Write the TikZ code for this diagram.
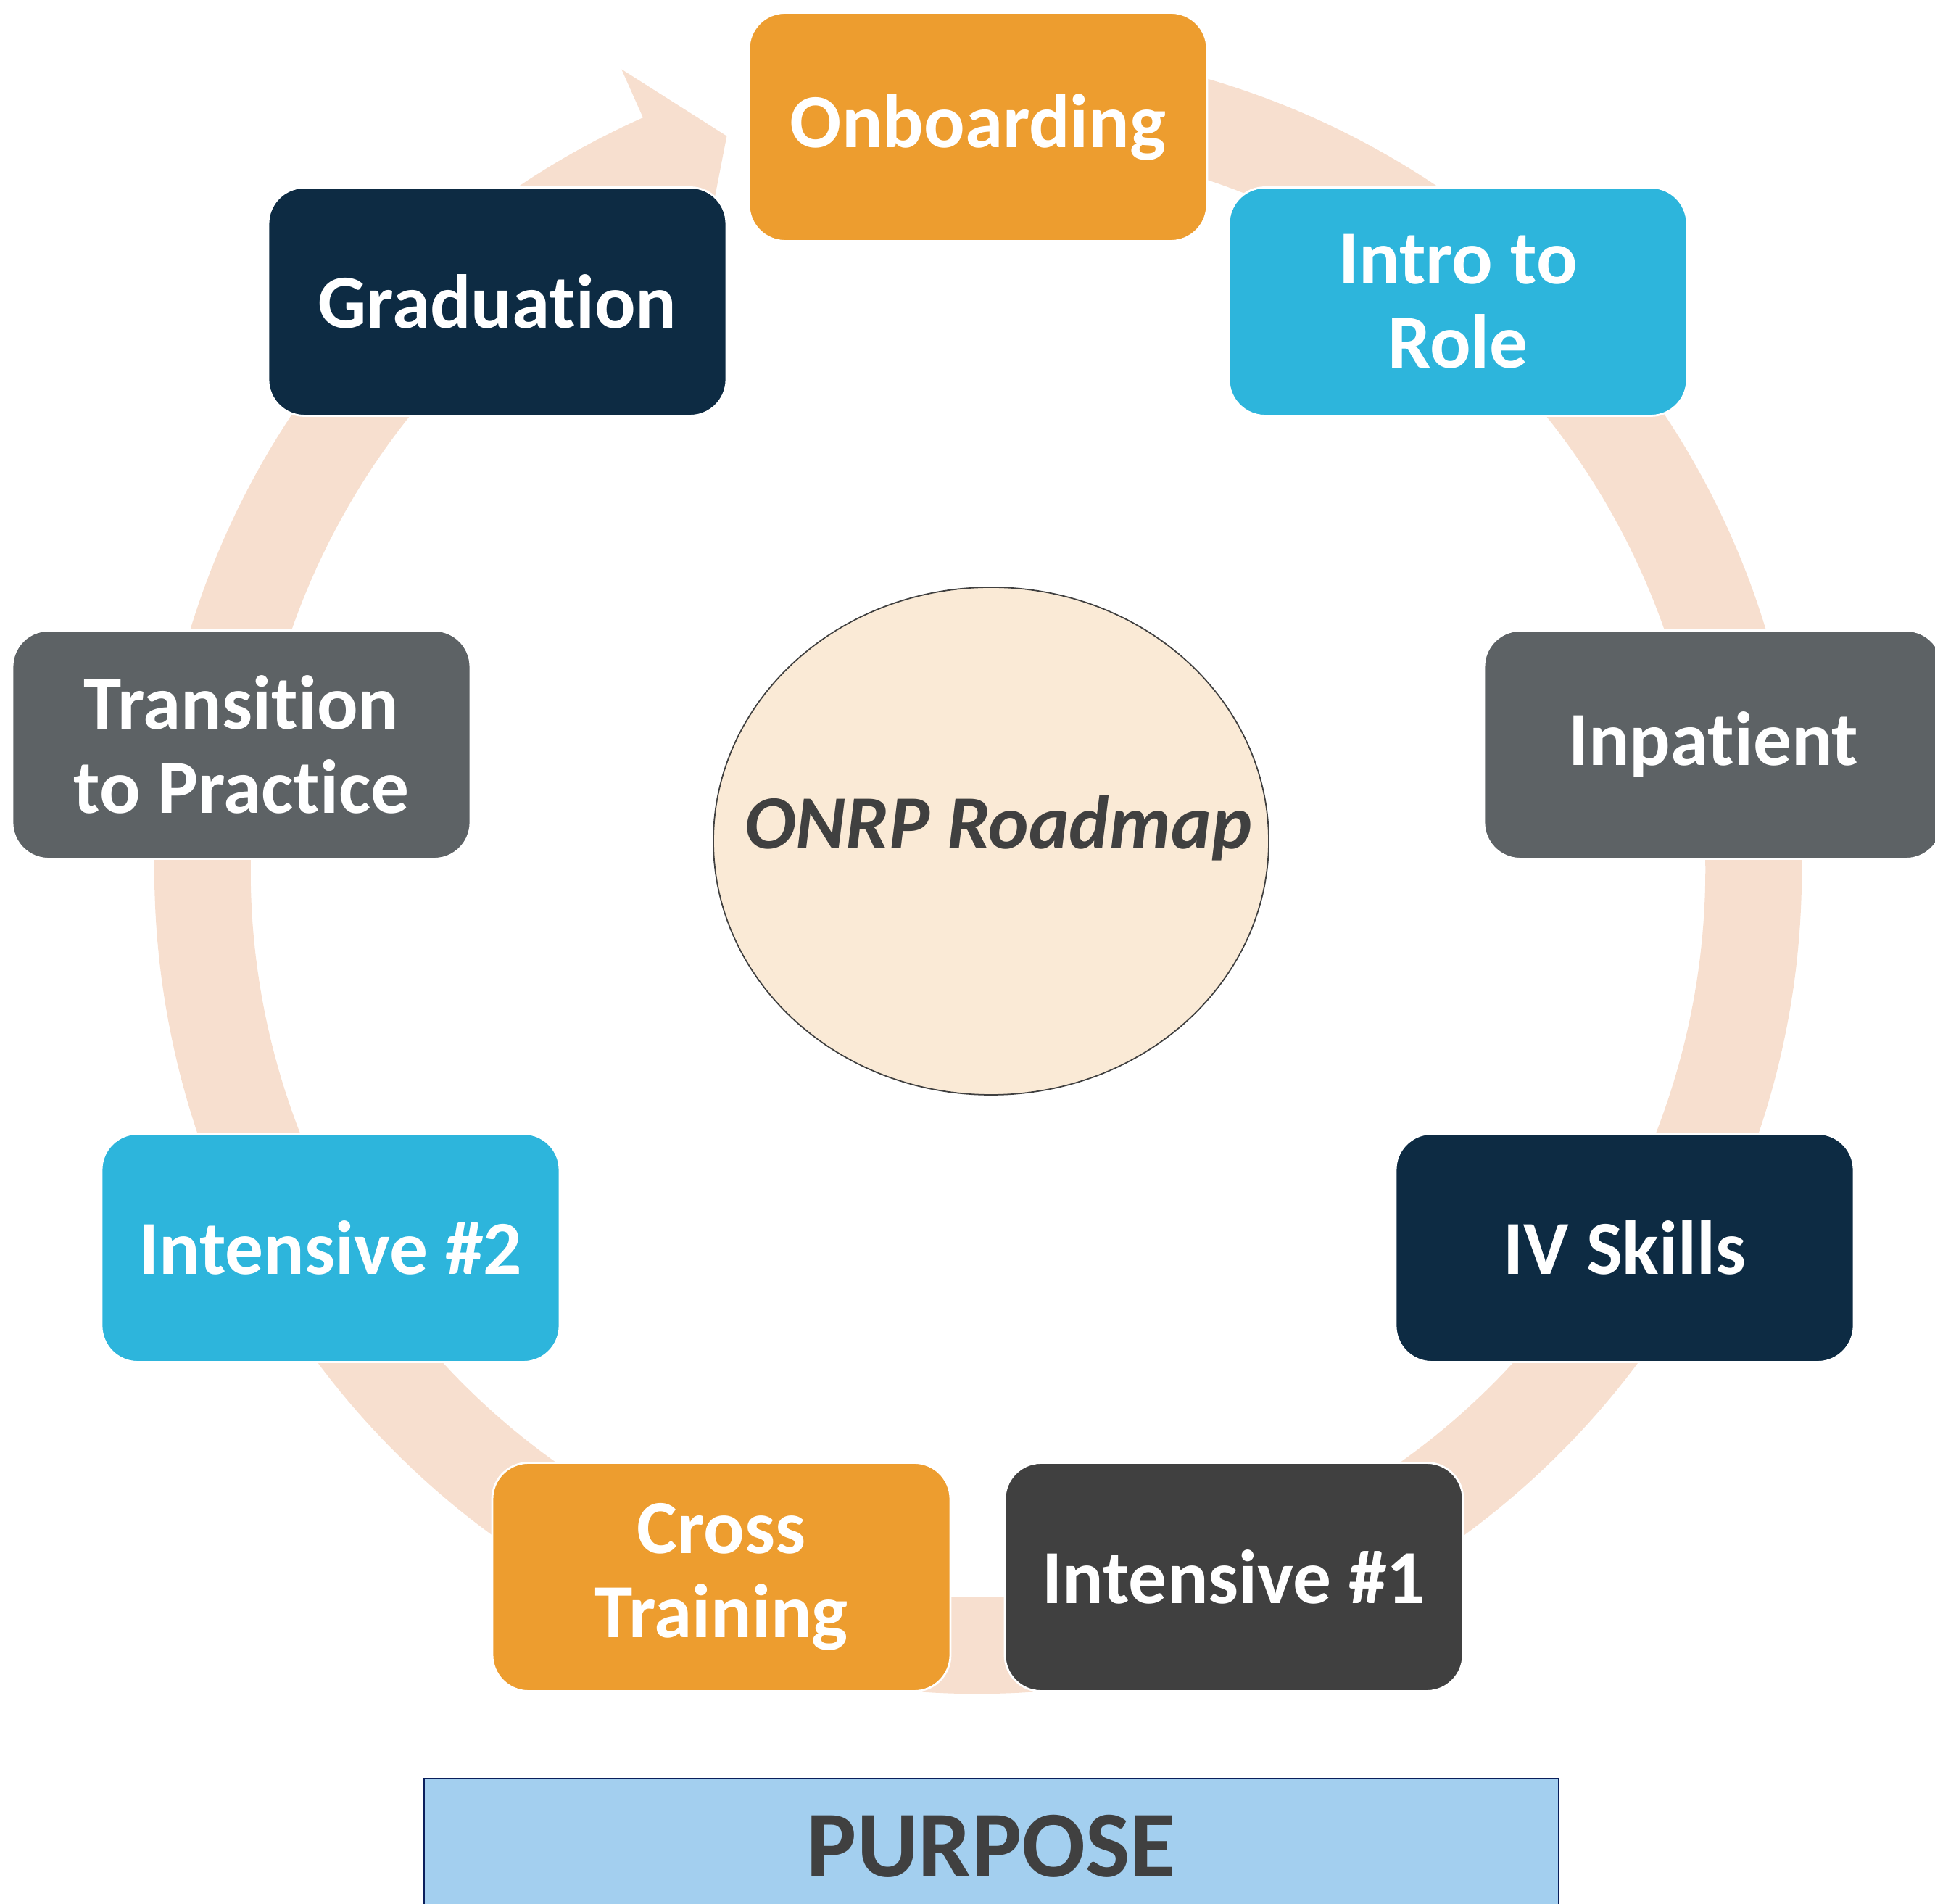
\documentclass[tikz,border=0pt]{standalone}
\usepackage{fontspec}
\setmainfont{Carlito}[Ligatures={NoCommon}]
\usetikzlibrary{shapes.geometric}
\definecolor{stageorange}{HTML}{ED9D2F}
\definecolor{stagecyan}{HTML}{2DB5DC}
\definecolor{stagenavy}{HTML}{0D2B43}
\definecolor{stagegrey}{HTML}{5D6265}
\definecolor{stagedark}{HTML}{404040}
\definecolor{ringpeach}{HTML}{F7DFCF}
\definecolor{hubfill}{HTML}{FAEAD6}
\definecolor{bannerfill}{HTML}{A3CFEF}
\definecolor{bannerline}{HTML}{0A1F5C}
\tikzset{
  stage/.style={rectangle, rounded corners=0.5cm,
    draw=white, line width=0.8pt,
    minimum width=6.32cm, minimum height=3.15cm, inner sep=0pt,
    text=white, align=center, font=\fontsize{30}{33}\selectfont\bfseries},
  hub/.style={ellipse, draw=stagedark, fill=hubfill, line width=0.5pt,
    minimum width=7.66cm, minimum height=7.0cm, inner sep=0pt},
  hubtitle/.style={text=stagedark, anchor=base,
    font=\fontsize{30}{33}\selectfont\bfseries\itshape},
  banner/.style={rectangle, draw=bannerline, fill=bannerfill, line width=0.6pt,
    minimum width=15.65cm, minimum height=1.86cm, text=stagedark,
    font=\fontsize{37}{40}\selectfont\bfseries},
}

\begin{document}
\begin{tikzpicture}
  \useasboundingbox (0,0) rectangle (26.69,26.26);
  \clip (0,0) rectangle (26.69,26.26);

  % circular arrow running clockwise behind the stages
  \begin{scope}[shift={(13.49,14.26)}]
    \fill[ringpeach] (100:11.36) arc[start angle=100, end angle=-246, radius=11.36]
      -- (-246:12.09) -- (-251.1:10.70) -- (-246:9.30) -- (-246:10.03)
      arc[start angle=-246, end angle=100, radius=10.03] -- cycle;
  \end{scope}

  \node[hub] (hub) at (13.67,14.66) {};
  \node[hubtitle] (title) at (13.77,14.55) {ONRP Roadmap};

  \node[stage, fill=stageorange] (onboard) at (13.49,24.51) {Onboarding};
  \node[stage, fill=stagecyan]   (intro)   at (20.11,22.10) {Intro to\\Role};
  \node[stage, fill=stagegrey]   (inpat)   at (23.63,15.99) {Inpatient};
  \node[stage, fill=stagenavy]   (iv)      at (22.41,9.05)  {IV Skills};
  \node[stage, fill=stagedark]   (intone)  at (17.02,4.51)  {Intensive \#1};
  \node[stage, fill=stageorange] (cross)   at (9.95,4.51)   {Cross\\Training};
  \node[stage, fill=stagecyan]   (inttwo)  at (4.56,9.05)   {Intensive \#2};
  \node[stage, fill=stagegrey]   (trans)   at (3.33,15.99)  {Transition\\to Practice};
  \node[stage, fill=stagenavy]   (grad)    at (6.86,22.10)  {Graduation};

  \node[banner] (purpose) at (13.675,0.80) {PURPOSE};
\end{tikzpicture}
\end{document}
